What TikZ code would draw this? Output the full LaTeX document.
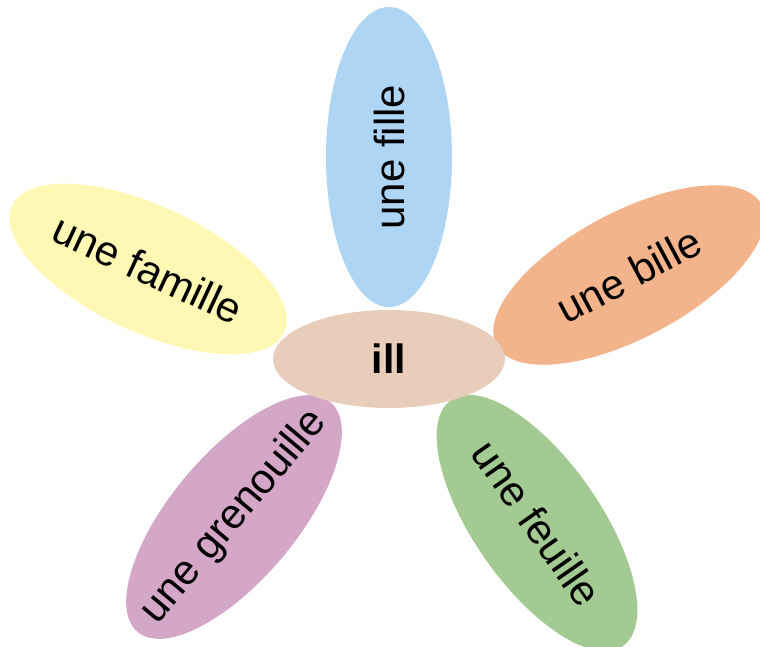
\documentclass[tikz,border=0pt]{standalone}
\usepackage{fontspec}
\setmainfont{Liberation Sans}
\usetikzlibrary{shapes.geometric}

\definecolor{petalblue}{HTML}{AED5F3}
\definecolor{petalorange}{HTML}{F3B48C}
\definecolor{petalyellow}{HTML}{FFF8B5}
\definecolor{petalpurple}{HTML}{D4A7C8}
\definecolor{petalgreen}{HTML}{A3CA92}
\definecolor{hearttan}{HTML}{E8CDBA}

% keep the petals at their own size, whatever the word
\newcommand{\petaltxt}[1]{\makebox[0pt]{#1}}

\tikzset{
  petal/.style={ellipse, minimum width=300pt, minimum height=126pt, inner sep=0pt,
    font=\fontsize{42}{50}\selectfont},
  heart/.style={ellipse, fill=hearttan, minimum width=232pt, minimum height=98pt,
    inner sep=0pt, font=\fontsize{41}{49}\selectfont\bfseries}
}

\begin{document}
\begin{tikzpicture}[x=1pt,y=-1pt]
      \useasboundingbox (0,0) rectangle (760,647);

      \node[petal, fill=petalblue,   rotate=90]  (fille)      at (389,157) {\petaltxt{une fille}};
      \node[petal, fill=petalorange, rotate=28]  (bille)      at (629,275) {\petaltxt{une bille}};
      \node[petal, fill=petalyellow, rotate=-25] (famille)    at (148,269) {\petaltxt{une famille}};
      \node[petal, fill=petalpurple, rotate=50]  (grenouille) at (234,517) {\petaltxt{une grenouille}};
      \node[petal, fill=petalgreen,  rotate=-55] (feuille)    at (537,523) {\petaltxt{une feuille}};

      \node[heart] (ill) at (389,359) {ill};
    \end{tikzpicture}
\end{document}
